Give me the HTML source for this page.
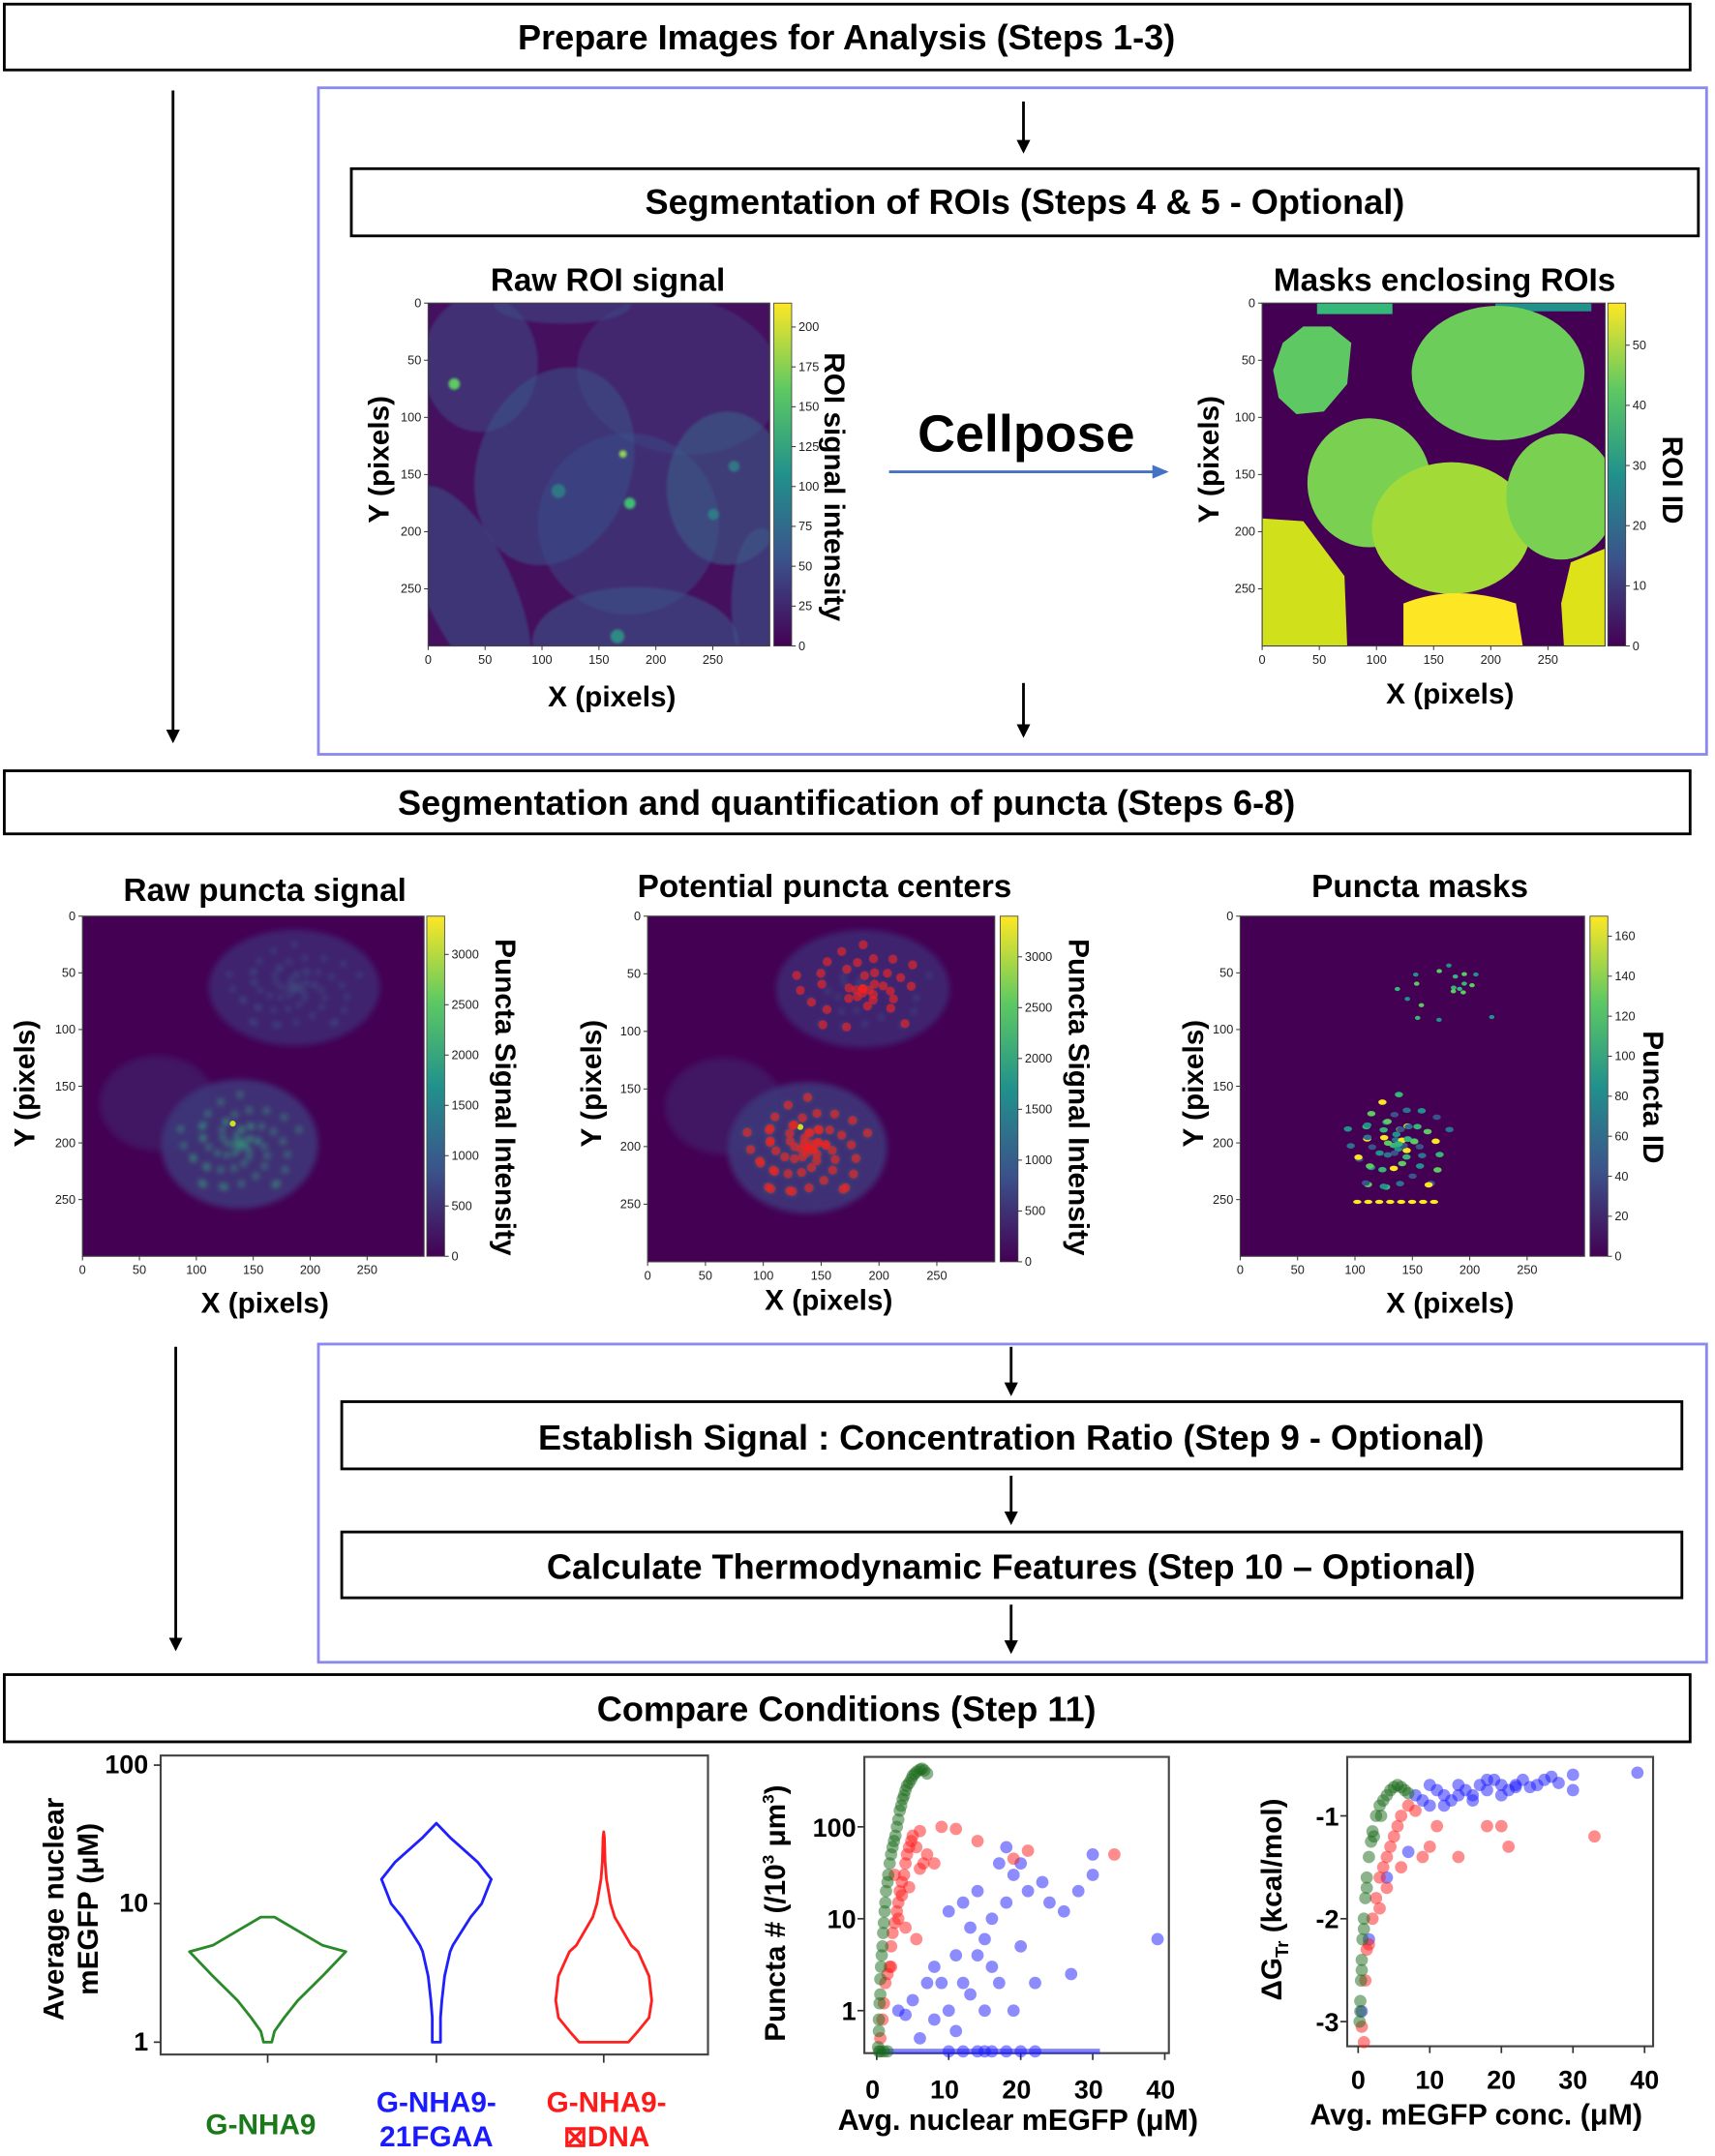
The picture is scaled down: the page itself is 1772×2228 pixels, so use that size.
<!DOCTYPE html>
<html><head><meta charset="utf-8">
<style>
html,body{margin:0;padding:0;background:#fff;}
svg{display:block;font-family:"Liberation Sans",Arial,sans-serif;}
.bx{fill:#fff;stroke:#000;stroke-width:2;}
.bt{font-weight:bold;font-size:25.5px;text-anchor:middle;}
.st{font-weight:bold;font-size:23.5px;text-anchor:middle;}
.lab{font-weight:bold;font-size:21px;text-anchor:middle;}
.tk{font-size:9px;fill:#222;}
</style></head>
<body>
<svg id="fig" width="1772" height="2228" viewBox="0 0 1250 1572" xmlns="http://www.w3.org/2000/svg">
<defs>
<linearGradient id="vir" x1="0" y1="1" x2="0" y2="0">
<stop offset="0" stop-color="#440154"/><stop offset="0.25" stop-color="#3b528b"/><stop offset="0.5" stop-color="#21918c"/><stop offset="0.75" stop-color="#5ec962"/><stop offset="1" stop-color="#fde725"/>
</linearGradient>
<filter id="blur2"><feGaussianBlur stdDeviation="2"/></filter>
<filter id="blur1"><feGaussianBlur stdDeviation="1"/></filter>
<marker id="ah" markerWidth="10" markerHeight="10" refX="8" refY="5" orient="auto" markerUnits="userSpaceOnUse"><path d="M0,0 L10,5 L0,10 z" fill="#000"/></marker>
<marker id="ahb" markerWidth="12" markerHeight="10" refX="10" refY="5" orient="auto" markerUnits="userSpaceOnUse"><path d="M0,0 L12,5 L0,10 z" fill="#4472c4"/></marker>
</defs>

<rect class="bx" x="3" y="3" width="1229" height="48"/>
<text class="bt" x="617" y="36">Prepare Images for Analysis (Steps 1-3)</text>
<line x1="126" y1="66" x2="126" y2="540" stroke="#000" stroke-width="2" marker-end="url(#ah)"/>

<rect x="232" y="64" width="1012" height="486" fill="none" stroke="#8a8aee" stroke-width="2"/>
<line x1="746" y1="74" x2="746" y2="110" stroke="#000" stroke-width="2" marker-end="url(#ah)"/>
<rect class="bx" x="256" y="123" width="982" height="49"/>
<text class="bt" x="747" y="156">Segmentation of ROIs (Steps 4 &amp; 5 - Optional)</text>

<text class="st" x="443" y="212">Raw ROI signal</text>
<text class="st" x="1053" y="212">Masks enclosing ROIs</text>

<g>
<rect x="312" y="221" width="249" height="250" fill="#45105e"/>
<clipPath id="c1"><rect x="312" y="221" width="249" height="250"/></clipPath>
<g clip-path="url(#c1)" filter="url(#blur1)">
<ellipse cx="350" cy="265" rx="42" ry="50" fill="#3c4f8a" opacity="0.5"/>
<ellipse cx="410" cy="222" rx="50" ry="14" fill="#3c4f8a" opacity="0.5"/>
<ellipse cx="495" cy="274" rx="75" ry="57" fill="#3d4a88" opacity="0.4" transform="rotate(10 495 274)"/>
<ellipse cx="404" cy="340" rx="56" ry="74" fill="#3a5a8d" opacity="0.5" transform="rotate(20 404 340)"/>
<ellipse cx="458" cy="382" rx="66" ry="66" fill="#3a528b" opacity="0.45"/>
<ellipse cx="530" cy="356" rx="44" ry="56" fill="#3a628d" opacity="0.55"/>
<ellipse cx="342" cy="430" rx="32" ry="82" fill="#3a5a8d" opacity="0.5" transform="rotate(-25 342 430)"/>
<ellipse cx="463" cy="468" rx="75" ry="40" fill="#3a5a8d" opacity="0.55"/>
<ellipse cx="555" cy="440" rx="22" ry="55" fill="#3a5a8d" opacity="0.55"/>
<circle cx="331" cy="280" r="4" fill="#5ec962"/>
<circle cx="454" cy="331" r="2.5" fill="#8fd744"/>
<circle cx="459" cy="367" r="4" fill="#3fbc73"/>
<circle cx="407" cy="358" r="5" fill="#2a8f8a" opacity="0.7"/>
<circle cx="520" cy="375" r="4" fill="#2a8f8a" opacity="0.7"/>
<circle cx="535" cy="340" r="4" fill="#2a8f8a" opacity="0.7"/>
<circle cx="450" cy="464" r="5" fill="#2a9f8a" opacity="0.8"/>
</g>
<rect x="312" y="221" width="249" height="250" fill="none" stroke="#444" stroke-width="0.8"/>
</g>
<rect x="564" y="221" width="13" height="250" fill="url(#vir)" stroke="#444" stroke-width="0.6"/>

<text class="lab" transform="translate(283,335) rotate(-90)">Y (pixels)</text>
<text class="lab" x="446" y="515">X (pixels)</text>
<text class="lab" transform="translate(601,355) rotate(90)">ROI signal intensity</text>

<text x="748" y="329" style="font-weight:bold;font-size:38px;text-anchor:middle">Cellpose</text>
<line x1="648" y1="344" x2="850" y2="344" stroke="#4472c4" stroke-width="2" marker-end="url(#ahb)"/>

<g>
<rect x="920" y="221" width="250" height="250" fill="#440154"/>
<clipPath id="c2"><rect x="920" y="221" width="250" height="250"/></clipPath>
<g clip-path="url(#c2)">
<rect x="960" y="221" width="55" height="8" fill="#35b779"/>
<rect x="1090" y="221" width="70" height="6" fill="#21918c"/>
<path d="M935,250 L950,238 L970,238 L985,250 L982,280 L965,300 L945,302 L932,290 L928,270 z" fill="#5ec962"/>
<ellipse cx="1092" cy="272" rx="63" ry="49" fill="#6ccd5a"/>
<ellipse cx="998" cy="352" rx="45" ry="47" fill="#7ad151"/>
<ellipse cx="1058" cy="385" rx="58" ry="48" fill="#a2da37"/>
<ellipse cx="1138" cy="362" rx="40" ry="46" fill="#7ad151"/>
<path d="M920,378 L950,380 L980,420 L982,471 L920,471 z" fill="#d0e11c"/>
<path d="M1023,440 Q1060,425 1105,440 L1110,471 L1023,471 z" fill="#fde725"/>
<path d="M1170,400 L1145,410 L1138,440 L1140,471 L1170,471 z" fill="#dde318"/>
</g>
<rect x="920" y="221" width="250" height="250" fill="none" stroke="#444" stroke-width="0.8"/>
</g>
<rect x="1172" y="221" width="13" height="250" fill="url(#vir)" stroke="#444" stroke-width="0.6"/>
<text class="lab" transform="translate(888,335) rotate(-90)">Y (pixels)</text>
<text class="lab" x="1057" y="513">X (pixels)</text>
<text class="lab" transform="translate(1212,350) rotate(90)">ROI ID</text>

<line x1="746" y1="498" x2="746" y2="536" stroke="#000" stroke-width="2" marker-end="url(#ah)"/>

<rect class="bx" x="3" y="562" width="1229" height="46"/>
<text class="bt" x="617" y="594">Segmentation and quantification of puncta (Steps 6-8)</text>

<text class="st" x="193" y="657">Raw puncta signal</text>
<text class="st" x="601" y="654">Potential puncta centers</text>
<text class="st" x="1035" y="654">Puncta masks</text>

<g id="pimg1"></g>
<g id="pimg2"></g>
<g id="pimg3"></g>
<rect x="311" y="668" width="13" height="248" fill="url(#vir)" stroke="#444" stroke-width="0.6"/>
<rect x="729" y="668" width="13" height="252" fill="url(#vir)" stroke="#444" stroke-width="0.6"/>
<rect x="1159" y="668" width="13" height="248" fill="url(#vir)" stroke="#444" stroke-width="0.6"/>

<text class="lab" transform="translate(25,790) rotate(-90)">Y (pixels)</text>
<text class="lab" x="193" y="957">X (pixels)</text>
<text class="lab" transform="translate(361,800) rotate(90)">Puncta Signal Intensity</text>
<text class="lab" transform="translate(438,790) rotate(-90)">Y (pixels)</text>
<text class="lab" x="604" y="955">X (pixels)</text>
<text class="lab" transform="translate(779,800) rotate(90)">Puncta Signal Intensity</text>
<text class="lab" transform="translate(877,790) rotate(-90)">Y (pixels)</text>
<text class="lab" x="1057" y="957">X (pixels)</text>
<text class="lab" transform="translate(1198,800) rotate(90)">Puncta ID</text>

<line x1="128" y1="982" x2="128" y2="1202" stroke="#000" stroke-width="2" marker-end="url(#ah)"/>
<rect x="232" y="980" width="1012" height="232" fill="none" stroke="#8a8aee" stroke-width="2"/>
<line x1="737" y1="982" x2="737" y2="1016" stroke="#000" stroke-width="2" marker-end="url(#ah)"/>
<rect class="bx" x="249" y="1022" width="977" height="49"/>
<text class="bt" x="737" y="1057">Establish Signal : Concentration Ratio  (Step 9 - Optional)</text>
<line x1="737" y1="1076" x2="737" y2="1110" stroke="#000" stroke-width="2" marker-end="url(#ah)"/>
<rect class="bx" x="249" y="1117" width="977" height="48"/>
<text class="bt" x="737" y="1151">Calculate Thermodynamic Features (Step 10 – Optional)</text>
<line x1="737" y1="1170" x2="737" y2="1204" stroke="#000" stroke-width="2" marker-end="url(#ah)"/>

<rect class="bx" x="3" y="1221" width="1229" height="49"/>
<text class="bt" x="617" y="1255">Compare Conditions (Step 11)</text>

<g id="violin">
<rect x="117" y="1280" width="399" height="218" fill="#fff" stroke="#444" stroke-width="1.5"/>
</g>
<text class="lab" transform="translate(46,1392) rotate(-90)">Average nuclear</text>
<text class="lab" transform="translate(71,1392) rotate(-90)">mEGFP (μM)</text>
<text class="lab" x="190" y="1556" fill="#1a7a1a">G-NHA9</text>
<text class="lab" x="318" y="1540" fill="#1a1aff">G-NHA9-</text>
<text class="lab" x="318" y="1565" fill="#1a1aff">21FGAA</text>
<text class="lab" x="442" y="1540" fill="#ff1a1a">G-NHA9-</text>
<text class="lab" x="442" y="1565" fill="#ff1a1a">⊠DNA</text>

<g id="sc1">
<rect x="630" y="1281" width="222" height="216" fill="#fff" stroke="#444" stroke-width="1.5"/>
</g>
<text class="lab" transform="translate(572,1395) rotate(-90)">Puncta #  (/10<tspan font-size="12" dy="-8">3</tspan><tspan dy="8"> μm</tspan><tspan font-size="12" dy="-8">3</tspan><tspan dy="8">)</tspan></text>
<text class="lab" x="742" y="1553" style="font-size:21.5px">Avg. nuclear mEGFP (μM)</text>

<g id="sc2">
<rect x="982" y="1281" width="223" height="211" fill="#fff" stroke="#444" stroke-width="1.5"/>
</g>
<text class="lab" transform="translate(934,1385) rotate(-90)">ΔG<tspan font-size="13" dy="5">Tr</tspan><tspan dy="-5"> (kcal/mol)</tspan></text>
<text class="lab" x="1076" y="1549" style="font-size:21.5px">Avg. mEGFP conc. (μM)</text>
</svg>

<script>
const violinCats = ['G-NHA9','G-NHA9-21FGAA','G-NHA9-DNA'];
const violinLevels = [1, 1.2, 1.5, 2, 3, 4.5, 5, 8, 10, 15, 20, 30, 38];
const violinGreen = [3, 5, 12, 22, 40, 57, 40, 5, 0, 0, 0, 0, 0];
const violinBlue = [3, 3, 3, 4, 6, 10, 12, 25, 33, 40, 30, 10, 0];
const violinRed = [18, 25, 33, 35, 33, 25, 20, 8, 5, 2, 1, 0.5, 0];
const violinMax = [8, 38, 33];
const violinYTicks = [1, 10, 100];

const s1GreenX = [0.2,0.3,0.3,0.4,0.5,0.5,0.6,0.7,0.8,0.9,1.0,1.1,1.2,1.3,1.5,1.6,1.8,2.0,2.2,2.4,2.6,2.8,3.0,3.2,3.4,3.6,3.8,4.0,4.2,4.5,4.8,5.0,5.3,5.6,6.0,6.3,6.6,7.0,0.3,0.5,1.0,1.5];
const s1GreenY = [0.4,0.6,0.8,1.2,1.5,2.2,3,4,5,7,9,12,15,20,25,30,40,50,60,70,80,100,120,150,170,200,220,250,280,300,330,360,380,400,420,430,410,380,0.36,0.36,0.36,0.36];
const s1RedX = [0.5,0.8,1.0,1.2,1.5,1.8,2.0,2.2,2.5,2.8,3.0,3.2,3.5,3.8,4.0,4.2,4.5,4.8,5.0,5.5,6.0,6.5,7.0,8.0,9.0,11,14,19,21,33,3.0,4.0,5.5,2.5,3.5,6.0,2.0,4.5];
const s1RedY = [0.5,0.8,1.2,2,2.5,3,5,7,9,12,15,20,25,30,40,50,60,70,80,60,90,40,50,40,100,95,70,45,55,50,10,8,6,30,18,35,3,22];
const s1BlueX = [3,4,5,6,7,8,8,9,10,10,11,11,12,12,13,13,14,14,15,15,16,16,17,17,18,18,19,19,20,20,21,22,23,24,26,27,28,30,30,39,12,15,18,14,16,10,20,22];
const s1BlueY = [1,0.9,1.3,0.5,2,0.8,3,2,1,12,4,0.6,2,15,1.5,8,4,20,6,1,10,3,40,2,60,15,1,30,5,40,20,2,25,15,12,2.5,20,50,30,6,0.36,0.36,0.36,0.36,0.36,0.36,0.36,0.36];
const s1XTicks = [0,10,20,30,40];
const s1YTicks = [1,10,100];

const s2GreenX = [0.2,0.3,0.4,0.5,0.6,0.8,1.0,1.2,1.5,1.8,2.0,2.5,3.0,3.5,4.0,4.5,5.0,5.5,6.0,6.5,7.0,0.3,0.5,0.8,1.2,2.2,3.2];
const s2GreenY = [-3.0,-2.8,-2.6,-2.4,-2.2,-2.0,-1.8,-1.6,-1.4,-1.25,-1.15,-1.0,-0.9,-0.85,-0.8,-0.75,-0.72,-0.7,-0.72,-0.75,-0.78,-2.9,-2.5,-2.1,-1.7,-1.2,-1.0];
const s2RedX = [0.5,0.8,1.0,1.5,2.0,2.5,3.0,3.5,4.0,4.5,5.0,5.5,6.0,7.0,8.0,9.0,10,11,14,18,20,21,33,1.2,3.0,4.0,6.0];
const s2RedY = [-3.05,-3.2,-2.6,-2.25,-2.0,-1.8,-1.6,-1.5,-1.4,-1.3,-1.2,-1.1,-1.0,-0.9,-0.95,-1.4,-1.3,-1.1,-1.4,-1.1,-1.1,-1.3,-1.2,-2.3,-1.9,-1.7,-1.5];
const s2BlueX = [0.5,1.5,4,7,8,9,10,11,12,13,14,15,16,17,18,19,20,21,22,23,24,25,26,27,28,30,30,39,10,12,14,16,18,20,22];
const s2BlueY = [-2.9,-2.2,-1.6,-1.35,-0.8,-0.85,-0.9,-0.75,-0.8,-0.85,-0.7,-0.75,-0.8,-0.7,-0.75,-0.65,-0.7,-0.75,-0.7,-0.65,-0.72,-0.7,-0.65,-0.62,-0.68,-0.6,-0.75,-0.58,-0.7,-0.9,-0.8,-0.85,-0.65,-0.8,-0.72];
const s2XTicks = [0,10,20,30,40];
const s2YTicks = [-1,-2,-3];

const NS = 'http://www.w3.org/2000/svg';
function mk(tag, attrs, parent){
  const e = document.createElementNS(NS, tag);
  for (const k in attrs) e.setAttribute(k, attrs[k]);
  parent.appendChild(e);
  return e;
}
const fig = document.getElementById('fig');

function imgAxes(x0,y0,w,h){
  const g = mk('g',{},fig);
  
  
  for (let v=0; v<=250; v+=50){
    const x = x0 + v*w/300, y = y0 + v*h/300;
    mk('line',{x1:x,y1:y0+h,x2:x,y2:y0+h+3,stroke:'#333','stroke-width':0.7},g);
    const t = mk('text',{x:x,y:y0+h+13,'text-anchor':'middle',class:'tk'},g); t.textContent=v;
    mk('line',{x1:x0-3,y1:y,x2:x0,y2:y,stroke:'#333','stroke-width':0.7},g);
    const t2 = mk('text',{x:x0-5,y:y+3,'text-anchor':'end',class:'tk'},g); t2.textContent=v;
  }
}
function cbarTicks(x,y0,h,max,step){
  const g = mk('g',{},fig);
  
  
  for (let v=0; v<=max; v+=step){
    const y = y0 + h - v/max*h;
    mk('line',{x1:x,y1:y,x2:x+3,y2:y,stroke:'#333','stroke-width':0.7},g);
    const t = mk('text',{x:x+5,y:y+3,class:'tk'},g); t.textContent=v;
  }
}
imgAxes(312,221,249,250); cbarTicks(577,221,250,215,25);
imgAxes(920,221,250,250); cbarTicks(1185,221,250,57,10);
imgAxes(60,668,249,248); cbarTicks(324,668,248,3380,500);
imgAxes(472,668,253,252); cbarTicks(742,668,252,3400,500);
imgAxes(904,668,251,248); cbarTicks(1172,668,248,170,20);

function punctaImg(id,x0,y0,w,h,mode){
  const g = document.getElementById(id);
  mk('rect',{x:x0,y:y0,width:w,height:h,fill:'#440154'},g);
  const cp = mk('clipPath',{id:'cp'+id},g);
  mk('rect',{x:x0,y:y0,width:w,height:h},cp);
  const inner = mk('g',{'clip-path':'url(#cp'+id+')'},g);
  const cx1 = x0+w*0.62, cy1=y0+h*0.21, cx2=x0+w*0.46, cy2=y0+h*0.67;
  if (mode!==3){
    const b = mk('g',{filter:'url(#blur2)'},inner);
    mk('ellipse',{cx:cx1,cy:cy1,rx:w*0.25,ry:h*0.17,fill:'#3b3f85',opacity:0.55},b);
    mk('ellipse',{cx:cx2,cy:cy2,rx:w*0.23,ry:h*0.19,fill:'#3b4f8a',opacity:0.6},b);
    mk('ellipse',{cx:x0+w*0.22,cy:y0+h*0.55,rx:w*0.17,ry:h*0.14,fill:'#3b3a7a',opacity:0.35},b);
    for (let i=0;i<70;i++){
      const a=i*2.4, r=((i*7)%11)/11;
      mk('circle',{cx:cx2+Math.cos(a)*w*0.2*r,cy:cy2+Math.sin(a)*h*0.16*r,r:1.8,fill:'#2fb47c',opacity:0.7},b);
      mk('circle',{cx:cx1+Math.cos(a)*w*0.22*r,cy:cy1+Math.sin(a)*h*0.14*r,r:1.5,fill:'#3e6c8e',opacity:0.7},b);
    }
    mk('circle',{cx:cx2-w*0.02,cy:cy2-h*0.06,r:2.2,fill:'#c8e020'},inner);
    if (mode===2){
      for (let i=0;i<70;i++){
        const a=i*2.4, r=((i*7)%11)/11;
        mk('circle',{cx:cx2+Math.cos(a)*w*0.2*r,cy:cy2+Math.sin(a)*h*0.16*r,r:3.3,fill:'#e22',opacity:0.65},inner);
      }
      for (let i=0;i<40;i++){
        const a=i*2.4, r=((i*7)%11)/11;
        mk('circle',{cx:cx1+Math.cos(a)*w*0.22*r,cy:cy1+Math.sin(a)*h*0.14*r,r:3.3,fill:'#e22',opacity:0.65},inner);
      }
    }
  } else {
    const cols=['#35b779','#21918c','#5ec962','#3b528b','#fde725','#2c728e'];
    for (let i=0;i<70;i++){
      const a=i*2.4, r=((i*7)%11)/11;
      mk('ellipse',{cx:cx2+Math.cos(a)*w*0.17*r,cy:cy2+Math.sin(a)*h*0.16*r,rx:3,ry:2,fill:cols[i%6]},inner);
    }
    for (let i=0;i<20;i++){
      const a=i*2.4, r=((i*7)%11)/11;
      mk('ellipse',{cx:cx1+Math.cos(a)*w*0.2*r,cy:cy1+Math.sin(a)*h*0.12*r,rx:2,ry:1.5,fill:cols[(i+1)%3]},inner);
    }
    for (let i=0;i<8;i++) mk('ellipse',{cx:cx2-w*0.12+i*8,cy:cy2+h*0.17,rx:3,ry:1.5,fill:'#fde725'},inner);
  }
  mk('rect',{x:x0,y:y0,width:w,height:h,fill:'none',stroke:'#444','stroke-width':0.8},g);
}
punctaImg('pimg1',60,668,249,248,1);
punctaImg('pimg2',472,668,253,252,2);
punctaImg('pimg3',904,668,251,248,3);

const vg = document.getElementById('violin');
function vy(v){ return 1489 - 101*Math.log10(v); }
violinYTicks.forEach(v=>{
  const y=vy(v);
  mk('line',{x1:112,y1:y,x2:117,y2:y,stroke:'#333','stroke-width':1.2},vg);
  const t=mk('text',{x:108,y:y+6,'text-anchor':'end','font-size':19,'font-weight':'bold'},vg); t.textContent=v;
});
const vCenters=[195,318,440];
const vData=[violinGreen,violinBlue,violinRed];
const vCols=['#2a8a2a','#2020ff','#ff2020'];
vData.forEach((d,i)=>{
  const c=vCenters[i];
  let right=[], left=[];
  for (let k=0;k<violinLevels.length;k++){
    if (violinLevels[k]>violinMax[i]) break;
    right.push([c+d[k],vy(violinLevels[k])]);
  }
  right.push([c,vy(violinMax[i])]);
  right.forEach(p=>left.unshift([2*c-p[0],p[1]]));
  const pts=right.concat(left).map(p=>p[0].toFixed(1)+','+p[1].toFixed(1)).join(' ');
  const p=mk('polygon',{points:pts,fill:'none',stroke:vCols[i],'stroke-width':2,'stroke-linejoin':'round'},vg);
  
  
  mk('line',{x1:c,y1:1498,x2:c,y2:1504,stroke:'#333','stroke-width':1.2},vg);
});

function scatter(gid, xs, ys, col, fx, fy, name){
  const g=document.getElementById(gid);
  xs.forEach((x,i)=>{
    const c=mk('circle',{cx:fx(x),cy:fy(ys[i]),r:4.5,fill:col,'fill-opacity':0.5},g);
    
    
  });
}
const s1x=v=>639+5.25*v, s1y=v=>1466-67*Math.log10(v);
const s2x=v=>990+5.22*v, s2y=v=>1324+75*(-1-v);
const g1=document.getElementById('sc1');
s1XTicks.forEach(v=>{
  mk('line',{x1:s1x(v),y1:1497,x2:s1x(v),y2:1502,stroke:'#333','stroke-width':1.2},g1);
  const t=mk('text',{x:s1x(v)-3,y:1530,'text-anchor':'middle','font-size':19,'font-weight':'bold'},g1); t.textContent=v;
});
s1YTicks.forEach(v=>{
  mk('line',{x1:625,y1:s1y(v),x2:630,y2:s1y(v),stroke:'#333','stroke-width':1.2},g1);
  const t=mk('text',{x:624,y:s1y(v)+7,'text-anchor':'end','font-size':19,'font-weight':'bold'},g1); t.textContent=v;
});
mk('line',{x1:s1x(0),y1:s1y(0.36),x2:s1x(31),y2:s1y(0.36),stroke:'#3333ff','stroke-width':4,opacity:0.6},g1);
scatter('sc1',s1BlueX,s1BlueY,'#1a1aff',s1x,s1y,'scatter1-point-21fgaa');
scatter('sc1',s1RedX,s1RedY,'#ff1a1a',s1x,s1y,'scatter1-point-dna');
scatter('sc1',s1GreenX,s1GreenY,'#1a6a1a',s1x,s1y,'scatter1-point-nha9');

const g2=document.getElementById('sc2');
s2XTicks.forEach(v=>{
  mk('line',{x1:s2x(v),y1:1492,x2:s2x(v),y2:1497,stroke:'#333','stroke-width':1.2},g2);
  const t=mk('text',{x:s2x(v),y:1523,'text-anchor':'middle','font-size':19,'font-weight':'bold'},g2); t.textContent=v;
});
s2YTicks.forEach(v=>{
  mk('line',{x1:977,y1:s2y(v),x2:982,y2:s2y(v),stroke:'#333','stroke-width':1.2},g2);
  const t=mk('text',{x:976,y:s2y(v)+7,'text-anchor':'end','font-size':19,'font-weight':'bold'},g2); t.textContent=v;
});
scatter('sc2',s2BlueX,s2BlueY,'#1a1aff',s2x,s2y,'scatter2-point-21fgaa');
scatter('sc2',s2RedX,s2RedY,'#ff1a1a',s2x,s2y,'scatter2-point-dna');
scatter('sc2',s2GreenX,s2GreenY,'#1a6a1a',s2x,s2y,'scatter2-point-nha9');
</script>
</body></html>
